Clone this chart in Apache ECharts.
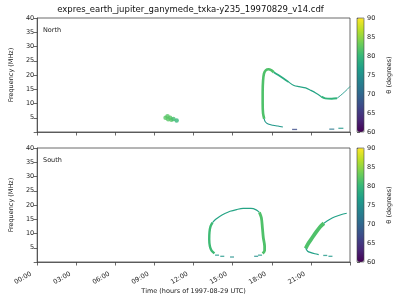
<!DOCTYPE html>
<html><head><meta charset="utf-8">
<script src="https://cdn.jsdelivr.net/npm/echarts@6/dist/echarts.min.js"></script>
<style>html,body{margin:0;padding:0;background:#fff}#c{width:400px;height:300px}</style>
</head><body><div id="c"></div>
<script>
const chartTitle = 'expres_earth_jupiter_ganymede_txka-y235_19970829_v14.cdf';
const xTickLabels = ['00:00','03:00','06:00','09:00','12:00','15:00','18:00','21:00'];
const thetaRange = [60, 90];
const viridis = ['#440154','#482878','#3e4989','#31688e','#26828e','#1f9e89','#35b779','#6ece58','#b5de2b','#fde725'];

// ---- North panel: [hour, MHz]
const northRise = [[17.42,4.6],[17.33,6.5],[17.3,10],[17.3,14],[17.33,18],[17.4,20.5],[17.55,21.7],[17.75,22.0],[17.95,21.7],[18.15,21.0]];
const northRiseTheta = 81.5;
const northArcA = [[18.15,21.0],[18.5,20.0],[18.9,18.8],[19.3,17.5]];
const northArcATheta = 78.5;
const northArcB = [[19.3,17.5],[19.7,16.3],[20.1,15.9],[20.6,15.5],[21.0,14.6],[21.4,13.6],[21.8,12.4]];
const northArcBTheta = 77.5;
const northFlat = [[21.8,12.4],[22.1,11.8],[22.6,11.7],[23.0,11.8]];
const northFlatTheta = 79.5;
const northEnd = [[23.0,11.8],[23.4,13.3],[23.8,15.0],[24,16.0]];
const northEndTheta = 76;
const northTail = [[17.42,4.6],[17.5,3.6],[17.72,2.8],[18.1,2.35],[18.47,2.1],[18.85,1.75]];
const northTailTheta = 76;
// scatter: [hour, MHz, theta]
const northBlob = [[9.85,5.0,82],[10.0,5.5,82],[10.05,4.5,82],[10.2,5.0,82],[10.3,4.3,82],[10.45,4.6,81],[10.7,4.0,80]];
const northDashes = [[19.75,0.9,67],[22.6,1.0,72],[23.3,1.3,76]];

// ---- South panel
const southLoopLeft = [[13.6,3.0],[13.38,4.0],[13.25,5.5],[13.2,8],[13.22,10.5],[13.3,12.5],[13.45,13.8]];
const southLoopLeftTheta = 80.5;
const southLoopTop = [[13.45,13.8],[13.7,15.0],[14.0,16.0],[14.4,17.0],[14.8,17.8],[15.3,18.4],[15.8,18.8],[16.4,18.8],[16.8,18.3],[17.05,17.4]];
const southLoopTopTheta = 77.5;
const southLoopRight = [[17.05,17.4],[17.2,15.5],[17.28,12],[17.35,8.5],[17.45,5.5],[17.45,4.0],[17.3,3.0]];
const southLoopRightTheta = 81.5;
const southArcThick = [[20.6,4.8],[20.8,6.5],[21.1,8.5],[21.4,10.5],[21.7,12.3],[22.0,13.6]];
const southArcThickTheta = 81.5;
const southArcThin = [[22.0,13.6],[22.4,14.8],[22.8,15.8],[23.3,16.6],[23.75,17.1]];
const southArcThinTheta = 77;
const southArcLow = [[20.6,4.8],[20.75,3.8],[21.0,3.3],[21.3,2.9],[21.6,2.6]];
const southArcLowTheta = 77;
const southDashes = [[13.8,2.4,76],[14.2,2.0,76],[14.95,1.75,75],[16.8,2.0,75],[17.1,2.4,76],[22.1,2.3,76],[22.5,2.0,76]];

function hexToRgb(h){return [1,3,5].map(i=>parseInt(h.substr(i,2),16));}
function thetaColor(t){
  let u=(t-thetaRange[0])/(thetaRange[1]-thetaRange[0]);
  u=Math.max(0,Math.min(1,u))*(viridis.length-1);
  const i=Math.min(viridis.length-2,Math.floor(u)), f=u-i;
  const a=hexToRgb(viridis[i]), b=hexToRgb(viridis[i+1]);
  return 'rgb('+a.map((v,k)=>Math.round(v+(b[k]-v)*f)).join(',')+')';
}

const FONT='DejaVu Sans';
const fs=6.5;
const axisCol='#444';

function lineSeries(data,theta,w,g){
  return {type:'line',xAxisIndex:g,yAxisIndex:g,data:data,showSymbol:false,smooth:0.3,
    lineStyle:{width:w,color:thetaColor(theta),cap:'butt',join:'round'},silent:true,z:3};
}
function scatterSeries(data,g,size,sym){
  return {type:'scatter',xAxisIndex:g,yAxisIndex:g,data:data,symbol:sym,symbolSize:size,silent:true,z:3};
}

const series=[
  scatterSeries(northBlob,0,4.5,'circle'),
  scatterSeries(northDashes,0,[5,1.3],'rect'),
  scatterSeries(southDashes,1,[4,1.3],'rect'),
  lineSeries(northRise,northRiseTheta,2.6,0),
  lineSeries(northArcA,northArcATheta,1.8,0),
  lineSeries(northArcB,northArcBTheta,1.2,0),
  lineSeries(northFlat,northFlatTheta,2,0),
  lineSeries(northEnd,northEndTheta,0.9,0),
  lineSeries(northTail,northTailTheta,1.1,0),
  lineSeries(southLoopLeft,southLoopLeftTheta,2.4,1),
  lineSeries(southLoopTop,southLoopTopTheta,1.2,1),
  lineSeries(southLoopRight,southLoopRightTheta,2.8,1),
  lineSeries(southArcThick,southArcThickTheta,3.8,1),
  lineSeries(southArcThin,southArcThinTheta,1.1,1),
  lineSeries(southArcLow,southArcLowTheta,1.2,1)
];

const gridTops=[18,148];
const mainX=gridTops.map((t,i)=>({gridIndex:i,type:'value',min:0,max:24,interval:3,
  axisLine:{show:true,lineStyle:{color:axisCol,width:0.8}},
  axisTick:{show:true,length:3.5,lineStyle:{color:axisCol,width:0.8}},
  splitLine:{show:false},
  axisLabel:{show:i===1,rotate:30,fontSize:fs,fontFamily:FONT,color:'#222',margin:8,padding:[0,7,0,0],
    formatter:v=>(v<24?xTickLabels[Math.round(v/3)]:'')},
  name:i===1?'Time (hours of 1997-08-29 UTC)':'',nameLocation:'middle',nameGap:22,
  nameTextStyle:{fontSize:fs,fontFamily:FONT,color:'#222'}}));
const mainY=gridTops.map((t,i)=>({gridIndex:i,type:'value',min:0,max:40,interval:5,
  axisLine:{show:true,lineStyle:{color:axisCol,width:0.8}},
  axisTick:{show:true,length:3.5,lineStyle:{color:axisCol,width:0.8}},
  splitLine:{show:false},
  axisLabel:{fontSize:fs,fontFamily:FONT,color:'#222',margin:3,formatter:v=>(v===0?'':String(v))},
  name:'Frequency (MHz)',nameLocation:'middle',nameGap:19,
  nameTextStyle:{fontSize:fs,fontFamily:FONT,color:'#222'}}));
const cbX=gridTops.map((t,i)=>({gridIndex:2+i,type:'value',min:0,max:1,show:false}));
const cbY=gridTops.map((t,i)=>({gridIndex:2+i,type:'value',min:thetaRange[0],max:thetaRange[1],interval:5,position:'right',
  axisLine:{show:false},axisTick:{show:true,length:3,lineStyle:{color:axisCol,width:0.8}},splitLine:{show:false},
  axisLabel:{fontSize:fs,fontFamily:FONT,color:'#222',margin:3},
  name:'θ (degrees)',nameLocation:'middle',nameGap:22,
  nameTextStyle:{fontSize:fs,fontFamily:FONT,color:'#222'}}));

const option={
  animation:false,
  backgroundColor:'#fff',
  grid:[
    {left:31,top:18,width:319,height:114,show:true,borderColor:axisCol,borderWidth:0.8,backgroundColor:'transparent'},
    {left:31,top:148,width:319,height:114,show:true,borderColor:axisCol,borderWidth:0.8,backgroundColor:'transparent'},
    {left:357,top:18,width:7,height:114,show:true,borderColor:axisCol,borderWidth:0.6,backgroundColor:'transparent',z:10},
    {left:357,top:148,width:7,height:114,show:true,borderColor:axisCol,borderWidth:0.6,backgroundColor:'transparent',z:10}
  ],
  xAxis:[...mainX,...cbX],
  yAxis:[...mainY,...cbY],
  visualMap:[0,1].map(i=>({type:'continuous',min:thetaRange[0],max:thetaRange[1],dimension:2,
    seriesIndex:i===0?[0,1]:[2],left:357,top:gridTops[i],itemWidth:7,itemHeight:114,padding:0,
    calculable:false,realtime:false,hoverLink:false,text:null,showLabel:false,
    inRange:{color:viridis},orient:'vertical'})),
  graphic:[
    {type:'text',x:190.5,y:10,style:{text:chartTitle,align:'center',verticalAlign:'middle',fontSize:8.5,fontFamily:FONT,fill:'#111'}},
    {type:'text',x:43,y:30,style:{text:'North',align:'left',verticalAlign:'middle',fontSize:fs,fontFamily:FONT,fill:'#222'}},
    {type:'text',x:43,y:160,style:{text:'South',align:'left',verticalAlign:'middle',fontSize:fs,fontFamily:FONT,fill:'#222'}}
  ],
  series:series
};
const chart=echarts.init(document.getElementById('c'),null,{renderer:'canvas'});
chart.setOption(option);
</script></body></html>
